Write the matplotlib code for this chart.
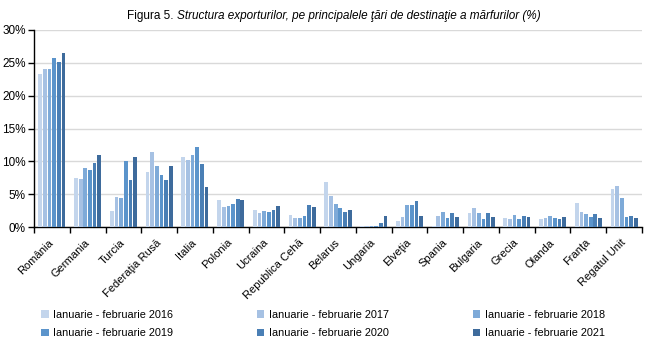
import matplotlib
matplotlib.use("Agg")
import matplotlib.pyplot as plt
from matplotlib.ticker import FuncFormatter
import numpy as np

plt.rcParams['font.family'] = ['Liberation Sans', 'DejaVu Sans']

countries = ["România", "Germania", "Turcia", "Federaţia Rusă", "Italia", "Polonia",
             "Ucraina", "Republica Cehă", "Belarus", "Ungaria", "Elveţia", "Spania",
             "Bulgaria", "Grecia", "Olanda", "Franţa", "Regatul Unit"]

periods = ["Ianuarie - februarie 2016", "Ianuarie - februarie 2017",
           "Ianuarie - februarie 2018", "Ianuarie - februarie 2019",
           "Ianuarie - februarie 2020", "Ianuarie - februarie 2021"]

v2016 = [23.3, 7.45, 2.4, 8.4, 10.6, 4.1, 2.6, 1.8, 6.8, 0.15, 0.9, 0.15, 2.1, 1.4, 1.2, 3.6, 5.8]
v2017 = [24.0, 7.3, 4.6, 11.4, 10.2, 3.0, 2.1, 1.4, 4.7, 0.15, 1.5, 1.7, 2.9, 1.2, 1.4, 2.3, 6.2]
v2018 = [24.0, 9.0, 4.4, 9.3, 10.9, 3.2, 2.4, 1.4, 3.5, 0.15, 3.3, 2.3, 2.1, 1.8, 1.7, 2.0, 4.4]
v2019 = [25.7, 8.7, 10.0, 7.9, 12.2, 3.5, 2.3, 1.7, 2.9, 0.15, 3.3, 1.4, 1.2, 1.2, 1.4, 1.5, 1.5]
v2020 = [25.1, 9.7, 7.1, 7.1, 9.6, 4.3, 2.6, 3.3, 2.3, 0.6, 4.0, 2.1, 2.1, 1.7, 1.2, 2.0, 1.7]
v2021 = [26.5, 10.9, 10.6, 9.3, 6.1, 4.1, 3.2, 3.0, 2.6, 1.7, 1.7, 1.5, 1.5, 1.5, 1.5, 1.4, 1.4]

series = [v2016, v2017, v2018, v2019, v2020, v2021]
colors = ["#C3D5EC", "#A6C1E3", "#7EAAD8", "#5B94CB", "#4A7FB5", "#3E6B9C"]

fig = plt.figure(figsize=(6.51, 3.42), dpi=100)
ax = fig.add_axes([34/651, 1-227/342, (642-34)/651, (227-30)/342])

x = np.arange(len(countries))
slot = 0.13
width = 0.105
for i, (vals, col, lab) in enumerate(zip(series, colors, periods)):
    ax.bar(x + (i - 2.5) * slot, vals, width=width, color=col, label=lab, zorder=3)

ax.set_xlim(-0.5, len(countries) - 0.5)
ax.set_ylim(0, 30)
ax.set_yticks(np.arange(0, 31, 5))
ax.yaxis.set_major_formatter(FuncFormatter(lambda v, p: f"{int(v)}%"))
ax.grid(axis='y', color='#D9D9D9', linewidth=1.0, zorder=0)

for s in ['top', 'right']:
    ax.spines[s].set_visible(False)
for s in ['left', 'bottom']:
    ax.spines[s].set_color('black')
    ax.spines[s].set_linewidth(1.0)

# category boundary ticks on the x axis, labels at centers
ax.set_xticks(np.arange(-0.5, len(countries), 1.0))
ax.set_xticklabels([])
ax.set_xticks(x, minor=True)
ax.set_xticklabels(countries, minor=True, rotation=45, ha='right',
                   va='center', rotation_mode='anchor', fontsize=8)
ax.tick_params(axis='x', which='major', direction='out', length=4, width=1)
ax.tick_params(axis='x', which='minor', length=0, pad=10)
ax.tick_params(axis='y', direction='out', length=4, width=1, labelsize=8.5, pad=2)

t1 = fig.text(127/651, 1-16/342, "Figura 5. ", fontsize=8.5, va='center', ha='left')
ax.annotate("Structura exporturilor, pe principalele ţări de destinaţie a mărfurilor (%)",
            xy=(1, 0), xycoords=t1, va='bottom', ha='left', fontsize=8.5,
            style='italic')

# legend filled row by row: 2016 2017 2018 / 2019 2020 2021
handles, labels = ax.get_legend_handles_labels()
order = [0, 3, 1, 4, 2, 5]
leg = fig.legend([handles[k] for k in order], [labels[k] for k in order],
                 ncol=3, loc='upper left',
                 bbox_to_anchor=(41/651, 1-310/342), frameon=False,
                 fontsize=7.8, handlelength=0.7, handleheight=0.7,
                 handletextpad=0.45, columnspacing=7.7, labelspacing=0.75,
                 borderaxespad=0, borderpad=0)

fig.savefig("out.png", dpi=100)
